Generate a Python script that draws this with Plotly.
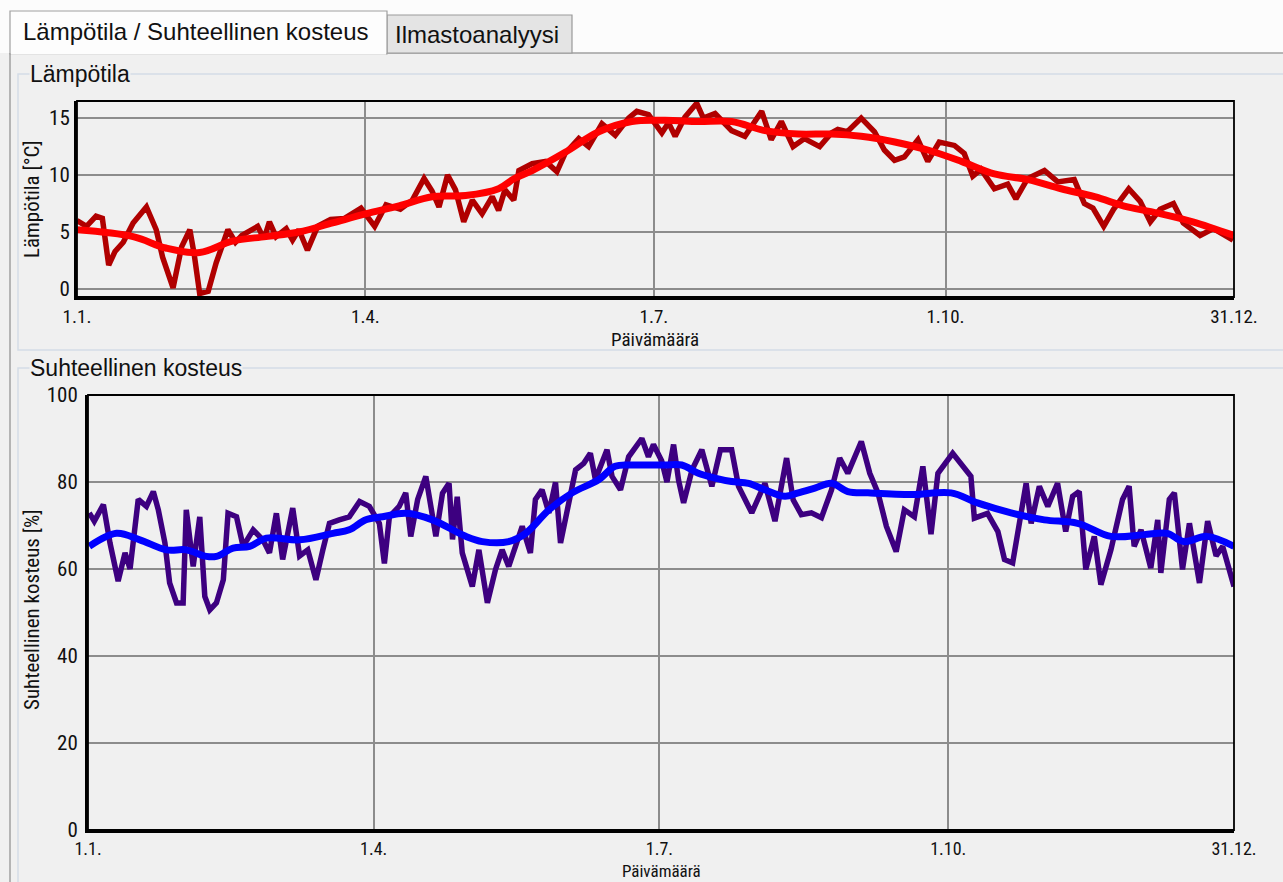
import pandas as pd
import plotly.graph_objects as go

# ---- data -----------------------------------------------------------------
YEAR_START = "2012-01-01"

# Temperature, measured (day of year, °C)
temp_day = [0, 3, 6, 8, 10, 12, 14.6, 17.7, 21.9, 25, 27, 30.3, 33, 35.6, 37, 38.7,
            41.4, 43.9, 47.6, 50, 52, 57, 59, 60.7, 62.8, 66, 68, 70, 72.7, 75.9,
            80, 84.4, 89.6, 93.9, 97.5, 102, 105.8, 109.5, 112, 114.2, 116.9, 119.4,
            122, 124.7, 127.8, 131, 133, 135, 137.8, 139.4, 143.6, 147.8, 151.4, 154,
            158.3, 161.4, 165.6, 169.8, 174, 176.6, 180.3, 184.5, 186.6, 188.7, 191.8,
            195.5, 197.6, 201.3, 206.5, 210.7, 216, 219, 222.2, 225.9, 229.5, 234.3,
            238, 240, 243, 247.4, 251.6, 254.7, 257.9, 261, 265.3, 268.4, 272, 276.8,
            279.9, 282.6, 285.2, 289.4, 293.6, 296.2, 299.9, 305.2, 309.4, 314.6,
            317.8, 320.5, 323.9, 327, 331.8, 335.4, 338.6, 341.7, 345.9, 349, 354.3,
            358.5, 364.7]
temp_raw = [6.0, 5.5, 6.4, 6.2, 2.1, 3.3, 4.1, 5.8, 7.2, 5.2, 2.8, 0.1, 3.7, 5.2, 3.0, -0.4,
            -0.2, 2.3, 5.2, 4.1, 4.7, 5.5, 4.4, 5.9, 4.6, 5.3, 4.3, 5.2, 3.4, 5.5,
            6.1, 6.2, 7.1, 5.5, 7.4, 7.0, 7.8, 9.7, 8.6, 7.2, 10.0, 8.7,
            5.9, 7.8, 6.6, 8.1, 6.9, 8.7, 7.8, 10.4, 11.0, 11.2, 10.3, 11.9,
            13.2, 12.5, 14.5, 13.5, 15.0, 15.6, 15.3, 13.7, 14.6, 13.4, 15.1,
            16.3, 15.0, 15.4, 13.9, 13.4, 15.6, 13.1, 14.7, 12.5, 13.2, 12.5,
            13.7, 14.0, 13.8, 15.0, 13.8, 12.2, 11.3, 11.6, 13.1, 11.2, 12.9, 12.6,
            11.9, 9.9, 10.5, 8.8, 9.2, 7.9, 9.7, 10.4, 9.4, 9.6,
            7.5, 7.1, 5.5, 7.0, 8.8, 7.7, 5.9, 7.0, 7.5, 5.8, 4.7,
            5.3, 4.3]

# Temperature, smoothed trend
temp_trend_day = [0, 17.7, 28, 38.7, 49, 59.6, 70, 80.6, 91, 101.6, 112, 122.6, 133, 138,
                  143.6, 154, 164.6, 175, 185.5, 196, 206.5, 217, 227.5, 238, 247.4, 258,
                  268.4, 279, 289.4, 300, 310.5, 321, 331.4, 342, 352, 365]
temp_trend = [5.2, 4.6, 3.6, 3.2, 4.2, 4.6, 5.0, 5.8, 6.6, 7.3, 8.1, 8.2, 8.8, 9.7,
              10.4, 12.0, 13.8, 14.7, 14.8, 14.7, 14.7, 13.9, 13.6, 13.6, 13.4, 12.9,
              12.2, 11.2, 10.1, 9.6, 8.8, 8.1, 7.2, 6.6, 5.9, 4.7]

# Relative humidity, measured (day of year, %)
rh_day = [0.4, 2, 4.9, 7, 9.6, 11.8, 13.4, 16, 18.6, 20.8, 22.4, 24.5, 26, 28.2, 30.3,
          31.3, 33.5, 35.6, 37.2, 38.8, 40.9, 43.1, 44.6, 47.3, 49.4, 52.6, 55.7, 57.8,
          60, 62, 65.2, 67.4, 70, 72.6, 74.8, 76.9, 80, 83.2, 86.5, 89.6, 92.8, 94.4, 96,
          99.1, 101.2, 102.8, 105, 107.6, 110.8, 112.9, 115, 116.1, 117.6, 119.2, 122.4,
          124.5, 127.2, 129.8, 131.9, 134, 138.3, 140.9, 142.5, 144.6, 146.8, 148.9,
          150.5, 153.1, 155.3, 157.9, 160, 161.6, 165.3, 166.9, 169.6, 172.2, 176.4,
          178.5, 180.1, 182.7, 184.4, 186.5, 188.1, 189.7, 192.4, 195.5, 198.7, 201.4,
          205, 207.2, 211.4, 215.6, 218.8, 222.5, 224.6, 227.2, 230.4, 233.6, 236.8,
          239.4, 242, 246.3, 249, 251.6, 254.3, 257.4, 260, 263.2, 265.9, 268.5, 270.7,
          275.4, 278.6, 281.2, 282.3, 286.5, 289.8, 291.9, 294.5, 296.6, 298.8, 300.4,
          303, 305.7, 308.8, 311.4, 313.6, 315.7, 317.8, 320.5, 322.6, 325.8, 329.5,
          331.6, 333.2, 335.4, 338.5, 340.7, 341.7, 344.4, 346, 348.6, 350.8, 354,
          356.6, 359.3, 361.4, 365]
rh_raw = [72.9, 71, 74.8, 66, 57.2, 63.7, 60, 76, 74.4, 77.8, 73.6, 66, 56.8, 52.2, 52.2,
          73.6, 60.6, 72, 53.7, 50.6, 52.2, 57.5, 72.8, 72, 65.2, 69, 66.7, 63.7,
          72.8, 62.2, 74, 63, 64.4, 57.5, 64.4, 70.5, 71.3, 72, 75.5, 74.4, 70.5, 61.3, 72,
          74.4, 77.5, 67.5, 76, 81.3, 67.5, 77.4, 79.7, 66.8, 76.6, 63.7, 56,
          64.4, 52.2, 59.9, 64.4, 60.6, 69.8, 63.7, 76, 78.2, 72.9, 79.9,
          66, 74.4, 82.8, 84.3, 86.6, 80.6, 87.4, 81.3, 78.2, 85.8, 90,
          85.8, 88.6, 84.9, 80, 88.6, 80.4, 75.2, 82.8, 87.4, 79, 87.4,
          87.4, 79, 72.9, 79.7, 71, 85.5, 75.9, 72.5, 72.9, 71.8, 78.2,
          85.5, 82, 89.3, 82, 77.5, 69.8, 64, 73.6, 72, 83.6, 68, 82,
          86.6, 83.9, 81.3, 71.7, 72.8, 68.6, 62.2, 61.4, 71.3, 79.7, 70.5,
          79, 74.4, 79.7, 68.6, 76.7, 77.8, 59.9, 67.5, 56.4, 64.4, 76,
          79, 65.2, 69, 60.2, 71.3, 59.1, 76, 77.5, 59.9, 70.5, 56.8,
          71, 63, 65.2, 56]

# Relative humidity, smoothed trend
rh_trend_day = [0.4, 9.1, 16.5, 25, 31.3, 37.7, 40.9, 46.2, 51.5, 56.8, 67.4, 78, 83.2,
                88.5, 93.8, 101.2, 109.7, 120.3, 125.6, 134, 139.4, 146.8, 154.2, 162.6,
                167.9, 173.3, 183.8, 189.1, 194.4, 199.7, 205, 210.4, 215.6, 222, 226.2,
                231.5, 236.8, 242, 248.4, 262.2, 274.9, 283.3, 294, 304.6, 315.2, 325.8,
                336.3, 343.7, 349, 356.4, 365]
rh_trend = [65.2, 68.2, 66.7, 64.4, 64.4, 62.9, 62.9, 64.8, 65.2, 67.1, 66.7, 68.2, 69,
            71.3, 72, 72.8, 71.3, 67.5, 66.3, 66.3, 68.2, 73.6, 77.5, 80.5,
            83.6, 83.9, 83.9, 83.9, 82, 80.9, 80.1, 79.7, 78.2, 76.7, 77.5,
            78.6, 79.7, 77.8, 77.5, 77.1, 77.5, 75.2, 72.9, 71.3, 70.5, 67.5,
            67.9, 68.2, 66.3, 67.5, 65.2]

x_range = ["2012-01-01", "2012-12-31"]
x_tick_dates = ["2012-01-01", "2012-04-01", "2012-07-01", "2012-10-01", "2012-12-31"]
x_tick_text = ["1.1.", "1.4.", "1.7.", "1.10.", "31.12."]
temp_ticks = [0, 5, 10, 15]
rh_ticks = [0, 20, 40, 60, 80, 100]


def to_dates(days):
    return pd.Timestamp(YEAR_START) + pd.to_timedelta(days, unit="D")


# ---- page geometry (pixels) -------------------------------------------------
W, H = 1283, 882


def fx(px):
    return px / W


def fy(py):
    return 1 - py / H


UI_FONT = "Liberation Sans, Arial, sans-serif"
NARROW = "Liberation Sans Narrow, Arial Narrow, Roboto Condensed, Liberation Sans, sans-serif"
PANEL = "#f0f0f0"
GRID = "#8c8c8c"
INK = "#111111"

fig = go.Figure()

fig.add_trace(go.Scatter(x=to_dates(temp_day), y=temp_raw, mode="lines",
                         line=dict(color="#b00000", width=5.5), xaxis="x", yaxis="y",
                         showlegend=False, hoverinfo="skip"))
fig.add_trace(go.Scatter(x=to_dates(temp_trend_day), y=temp_trend, mode="lines",
                         line=dict(color="#ff0000", width=7, shape="spline"),
                         xaxis="x", yaxis="y", showlegend=False))
fig.add_trace(go.Scatter(x=to_dates(rh_day), y=rh_raw, mode="lines",
                         line=dict(color="#3d0080", width=5.5), xaxis="x2", yaxis="y2",
                         showlegend=False, hoverinfo="skip"))
fig.add_trace(go.Scatter(x=to_dates(rh_trend_day), y=rh_trend, mode="lines",
                         line=dict(color="#0000ff", width=7, shape="spline"),
                         xaxis="x2", yaxis="y2", showlegend=False))

xaxis_common = dict(
    type="date", range=x_range,
    tickmode="array", tickvals=x_tick_dates, ticktext=x_tick_text,
    showgrid=True, gridcolor=GRID, gridwidth=1.5,
    showline=True, linecolor="black", linewidth=3,
    ticks="",
    tickfont=dict(family=NARROW, size=19, color=INK),
    zeroline=False, fixedrange=True, automargin=False,
)
yaxis_common = dict(
    showgrid=True, gridcolor=GRID, gridwidth=1.5,
    showline=True, linecolor="black", linewidth=3,
    ticks="", tickfont=dict(family=NARROW, size=21, color=INK),
    zeroline=False, fixedrange=True, tickmode="array", automargin=False,
)

TOP = dict(x0=77, x1=1234, y0=101, y1=297)
BOT = dict(x0=88, x1=1234, y0=395, y1=830)

fig.update_layout(
    width=W, height=H,
    margin=dict(l=0, r=0, t=0, b=0, autoexpand=False),
    paper_bgcolor=PANEL, plot_bgcolor=PANEL,
    xaxis=dict(xaxis_common, domain=[fx(TOP["x0"]), fx(TOP["x1"])], anchor="y"),
    yaxis=dict(yaxis_common, domain=[fy(TOP["y1"]), fy(TOP["y0"])], anchor="x",
               range=[-0.7, 16.5], tickvals=temp_ticks),
    xaxis2=dict(xaxis_common, domain=[fx(BOT["x0"]), fx(BOT["x1"])], anchor="y2",
                tickfont=dict(family=NARROW, size=18, color=INK)),
    yaxis2=dict(yaxis_common, domain=[fy(BOT["y1"]), fy(BOT["y0"])], anchor="x2",
                range=[0, 100], tickvals=rh_ticks, ticklabelstandoff=3),
)

shapes = []
# white strip behind the tabs
shapes.append(dict(type="rect", xref="paper", yref="paper", layer="below",
                   x0=0, x1=1, y0=fy(53), y1=1, fillcolor="#fcfcfc", line_width=0))
# tab panel border
shapes.append(dict(type="line", xref="paper", yref="paper", x0=fx(10), x1=1,
                   y0=fy(53), y1=fy(53), line=dict(color="#a0a0a0", width=1.5)))
shapes.append(dict(type="line", xref="paper", yref="paper", x0=fx(10), x1=fx(10),
                   y0=0, y1=fy(53), line=dict(color="#a0a0a0", width=1.5)))
# inactive tab
shapes.append(dict(type="rect", xref="paper", yref="paper", x0=fx(387), x1=fx(572),
                   y0=fy(53), y1=fy(15), fillcolor="#e4e4e4",
                   line=dict(color="#9a9a9a", width=1.2)))
# active tab
shapes.append(dict(type="rect", xref="paper", yref="paper", x0=fx(10), x1=fx(387),
                   y0=fy(54), y1=fy(11), fillcolor="#fdfdfd",
                   line=dict(color="#a0a0a0", width=1.2)))
shapes.append(dict(type="line", xref="paper", yref="paper", x0=fx(11), x1=fx(386),
                   y0=fy(53.5), y1=fy(53.5), line=dict(color="#fdfdfd", width=2)))
# group boxes
for top, bottom in [(74, 350), (368, 900)]:
    shapes.append(dict(type="rect", xref="paper", yref="paper", layer="below",
                       x0=fx(18), x1=fx(1300), y0=fy(bottom), y1=fy(top),
                       fillcolor="rgba(0,0,0,0)", line=dict(color="#d3dce6", width=1.5)))
# thin frame on the top/right of each plot area
for ax in [("x", "y"), ("x2", "y2")]:
    shapes.append(dict(type="rect", xref=ax[0] + " domain", yref=ax[1] + " domain",
                       x0=0, x1=1, y0=0, y1=1, line=dict(color="black", width=1.8),
                       fillcolor="rgba(0,0,0,0)"))
fig.update_layout(shapes=shapes)

ann = []
ann.append(dict(text="Lämpötila / Suhteellinen kosteus", x=fx(21), y=fy(31),
                xanchor="left", yanchor="middle", showarrow=False,
                font=dict(family=UI_FONT, size=24, color=INK)))
ann.append(dict(text="Ilmastoanalyysi", x=fx(393), y=fy(35),
                xanchor="left", yanchor="middle", showarrow=False,
                font=dict(family=UI_FONT, size=24, color=INK)))
ann.append(dict(text="Lämpötila", x=fx(29), y=fy(74), xanchor="left", yanchor="middle",
                showarrow=False, bgcolor=PANEL, borderpad=0,
                font=dict(family=UI_FONT, size=23, color=INK)))
ann.append(dict(text="Suhteellinen kosteus", x=fx(29), y=fy(368), xanchor="left",
                yanchor="middle", showarrow=False, bgcolor=PANEL, borderpad=0,
                font=dict(family=UI_FONT, size=23, color=INK)))
ann.append(dict(text="Päivämäärä", x=fx(655), y=fy(339), xanchor="center",
                yanchor="middle", showarrow=False,
                font=dict(family=NARROW, size=19, color=INK)))
ann.append(dict(text="Päivämäärä", x=fx(661), y=fy(882), xanchor="center",
                yanchor="bottom", showarrow=False, borderpad=0,
                font=dict(family=NARROW, size=17, color=INK)))
ann.append(dict(text="Lämpötila [°C]", x=fx(32), y=fy(199), xanchor="center",
                yanchor="middle", textangle=-90, showarrow=False,
                font=dict(family=NARROW, size=21, color=INK)))
ann.append(dict(text="Suhteellinen kosteus [%]", x=fx(32), y=fy(610), xanchor="center",
                yanchor="middle", textangle=-90, showarrow=False,
                font=dict(family=NARROW, size=21, color=INK)))
for a in ann:
    a.update(xref="paper", yref="paper")
fig.update_layout(annotations=ann)

fig.write_html("out.html", config={"displayModeBar": False})
